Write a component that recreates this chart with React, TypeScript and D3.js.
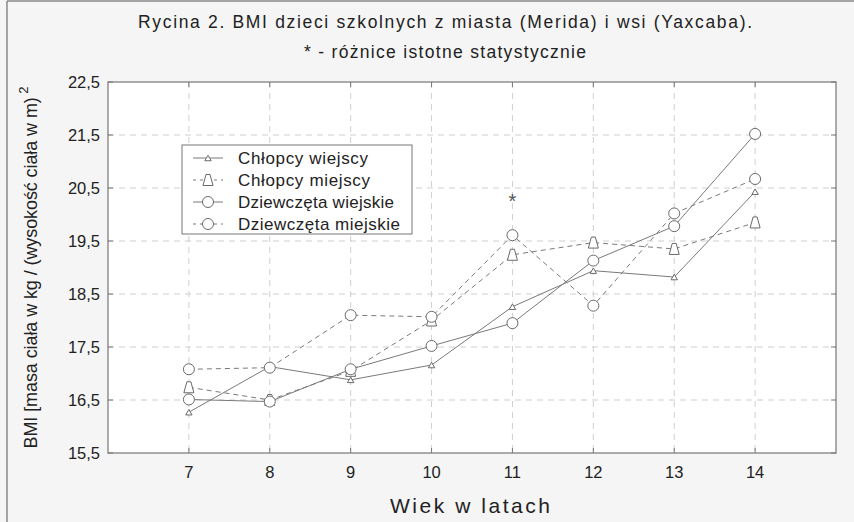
import React from "react";
import * as d3 from "d3";

const ages = [7, 8, 9, 10, 11, 12, 13, 14];
const yTicks = [15.5, 16.5, 17.5, 18.5, 19.5, 20.5, 21.5, 22.5];
const chlopcyWiejscy = [16.27, 17.13, 16.88, 17.16, 18.26, 18.94, 18.82, 20.43];
const chlopcyMiejscy = [16.74, 16.5, 17.05, 18.0, 19.24, 19.47, 19.35, 19.85];
const dziewczetaWiejskie = [16.51, 16.47, 17.08, 17.52, 17.95, 19.13, 19.78, 21.52];
const dziewczetaMiejskie = [17.08, 17.11, 18.1, 18.07, 19.61, 18.28, 20.02, 20.67];
const seriesNames = ["Chłopcy wiejscy", "Chłopcy miejscy", "Dziewczęta wiejskie", "Dziewczęta miejskie"];
const significantAges = [11];
const significantValues = [20.3];

const W = 854, H = 522;
const L = 108, R = 836, T = 82, B = 453;

type Marker = "smallTri" | "bigTri" | "circle";
const seriesStyles: { values: number[]; dashed: boolean; marker: Marker; legendLen: number }[] = [
  { values: chlopcyWiejscy, dashed: false, marker: "smallTri", legendLen: 130 },
  { values: chlopcyMiejscy, dashed: true, marker: "bigTri", legendLen: 132 },
  { values: dziewczetaWiejskie, dashed: false, marker: "circle", legendLen: 156 },
  { values: dziewczetaMiejskie, dashed: true, marker: "circle", legendLen: 162 },
];

const LINE = "#7a7a7a";
const MARK = "#6a6a6a";
const FONT = "'Liberation Sans', Arial, sans-serif";

function MarkerShape({ type, x, y }: { type: Marker; x: number; y: number }) {
  if (type === "circle") return <circle cx={x} cy={y} r={5.5} fill="white" stroke={MARK} strokeWidth={1} />;
  if (type === "bigTri") {
    const w = 5, h = 11;
    return <path d={`M${x - w},${y + h / 2}L${x + w},${y + h / 2}L${x + 2},${y - h / 2}L${x - 2},${y - h / 2}Z`} fill="white" stroke={MARK} strokeWidth={1} />;
  }
  const w = 3.2, h = 5.5;
  return <path d={`M${x - w},${y + h / 2}L${x + w},${y + h / 2}L${x},${y - h / 2}Z`} fill="white" stroke={MARK} strokeWidth={1} />;
}

export default function App() {
  const x = d3.scaleLinear().domain([6, 15]).range([L, R]);
  const y = d3.scaleLinear().domain([15.5, 22.5]).range([B, T]);
  const line = d3.line<number>().x((_, i) => x(ages[i])).y((d) => y(d));

  return (
    <svg width={W} height={H} style={{ display: "block", position: "absolute", left: 0, top: 0 }} fontFamily={FONT}>
      <rect x={0} y={0} width={W} height={H} fill="#f5f5f5" />
      <line x1={7} y1={1} x2={7} y2={H} stroke="#888" strokeWidth={1.5} />
      <line x1={7} y1={1} x2={W} y2={1} stroke="#888" strokeWidth={1.5} />
      <rect x={L} y={T} width={R - L} height={B - T} fill="white" />
      {/* grid */}
      {yTicks.slice(1, -1).map((t) => (
        <line key={"gy" + t} x1={L} x2={R} y1={y(t)} y2={y(t)} stroke="#cfcfcf" strokeDasharray="6,5" />
      ))}
      {ages.map((a) => (
        <line key={"gx" + a} x1={x(a)} x2={x(a)} y1={T} y2={B} stroke="#cfcfcf" strokeDasharray="6,5" />
      ))}
      {/* frame */}
      <rect x={L} y={T} width={R - L} height={B - T} fill="none" stroke="#777" strokeWidth={1.2} />
      {yTicks.map((t) => (
        <g key={"ty" + t}>
          <line x1={L} x2={L + 5} y1={y(t)} y2={y(t)} stroke="#777" />
          <line x1={R} x2={R - 5} y1={y(t)} y2={y(t)} stroke="#777" />
          <text x={100} y={y(t)} dy="0.35em" textAnchor="end" fontSize={16.5} fill="#222">
            {d3.format(".1f")(t).replace(".", ",")}
          </text>
        </g>
      ))}
      {ages.map((a) => (
        <g key={"tx" + a}>
          <line x1={x(a)} x2={x(a)} y1={B} y2={B - 5} stroke="#777" />
          <line x1={x(a)} x2={x(a)} y1={T} y2={T + 5} stroke="#777" />
          <text x={x(a)} y={478} textAnchor="middle" fontSize={16.5} fill="#222">{a}</text>
        </g>
      ))}
      {/* series */}
      {seriesStyles.map((s, i) => (
        <path key={"l" + i} d={line(s.values) || ""} fill="none" stroke={LINE} strokeWidth={1}
          strokeDasharray={s.dashed ? "5,4" : undefined} />
      ))}
      {seriesStyles.map((s, i) => (
        <g key={"m" + i}>
          {s.values.map((v, j) => <MarkerShape key={j} type={s.marker} x={x(ages[j])} y={y(v)} />)}
        </g>
      ))}
      {significantAges.map((a, i) => (
        <text key={"s" + a} x={x(a)} y={y(significantValues[i]) + 9} textAnchor="middle" fontSize={20} fill="#555">*</text>
      ))}
      {/* legend */}
      <rect x={182} y={145} width={230} height={89} fill="white" stroke="#777" strokeWidth={1} />
      {seriesStyles.map((s, i) => {
        const ly = 158 + i * 22;
        return (
          <g key={"lg" + i}>
            <line x1={193} x2={223} y1={ly} y2={ly} stroke={LINE} strokeDasharray={s.dashed ? "3,4" : undefined} />
            <MarkerShape type={s.marker} x={208} y={ly} />
            <text x={238} y={ly} dy="0.35em" fontSize={17} fill="#222" textLength={s.legendLen} lengthAdjust="spacing">{seriesNames[i]}</text>
          </g>
        );
      })}
      {/* titles */}
      <text x={445} y={28} textAnchor="middle" fontSize={17.5} fill="#222" textLength={614} lengthAdjust="spacing">
        Rycina 2.  BMI dzieci szkolnych z miasta (Merida) i  wsi (Yaxcaba).
      </text>
      <text x={445} y={58} textAnchor="middle" fontSize={17.5} fill="#222" textLength={282} lengthAdjust="spacing">
        * - różnice istotne statystycznie
      </text>
      <text x={470} y={513} textAnchor="middle" fontSize={21} fill="#222" textLength={160} lengthAdjust="spacing">Wiek w latach</text>
      <text transform={`translate(37,${(T + B) / 2}) rotate(-90)`} textAnchor="middle" fontSize={18} fill="#222" textLength={362} lengthAdjust="spacing">
        BMI [masa ciała w kg / (wysokość ciała w m)<tspan dy={-9} fontSize={13}> 2</tspan>
      </text>
    </svg>
  );
}
